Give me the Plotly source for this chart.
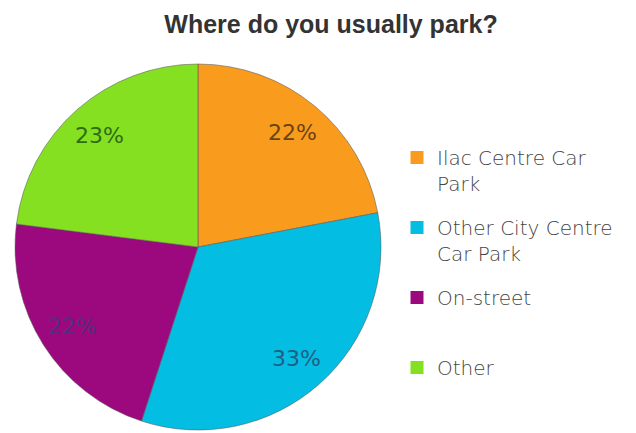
import math
import plotly.graph_objects as go

# Survey answers: where respondents usually park
categories = ["Ilac Centre Car Park", "Other City Centre Car Park", "On-street", "Other"]
legend_text = ["Ilac Centre Car<br>Park", "Other City Centre<br>Car Park", "On-street<br> ", "Other"]
shares = [22, 33, 22, 23]
slice_colors = ["#F99C1E", "#03BDE3", "#9C087E", "#84E021"]
label_colors = ["#6a4414", "#1f5f84", "#53307a", "#2e6c14"]

W, H = 636, 433
# pie placement in pixels
CX, CY, R = 198, 247, 183
LABEL_RADIUS = 0.81

fig = go.Figure()

fig.add_trace(
    go.Pie(
        labels=categories,
        values=shares,
        sort=False,
        direction="clockwise",
        rotation=0,
        marker=dict(colors=slice_colors, line=dict(color="rgba(90,90,90,0.55)", width=1)),
        textinfo="none",
        hoverinfo="label+percent",
        showlegend=False,
        domain=dict(x=[(CX - R) / W, (CX + R) / W], y=[(H - CY - R) / H, (H - CY + R) / H]),
    )
)

# legend entries, one group each so the spacing between them can be set
for name, text, color in zip(categories, legend_text, slice_colors):
    fig.add_trace(
        go.Scatter(
            x=[None], y=[None], mode="markers", name=text, legendgroup=name,
            marker=dict(symbol="square", size=13, color=color, line=dict(width=0)),
            hoverinfo="skip",
        )
    )

# percentage labels placed along each slice's middle angle
total = sum(shares)
start = 0.0
for share, color in zip(shares, label_colors):
    mid = (start + share / 2) / total * 2 * math.pi
    start += share
    px = CX + LABEL_RADIUS * R * math.sin(mid)
    py = CY - LABEL_RADIUS * R * math.cos(mid)
    fig.add_annotation(
        x=px / W, y=1 - py / H, xref="paper", yref="paper",
        text=f"{share}%", showarrow=False,
        xanchor="center", yanchor="middle",
        font=dict(family="DejaVu Sans", size=22, weight=400, color=color),
    )

fig.update_layout(
    width=W,
    height=H,
    margin=dict(l=0, r=0, t=0, b=0),
    paper_bgcolor="white",
    plot_bgcolor="white",
    xaxis=dict(visible=False),
    yaxis=dict(visible=False),
    title=dict(
        text="<b>Where do you usually park?</b>",
        x=331 / W,
        xanchor="center",
        y=1 - 24 / H,
        yanchor="middle",
        font=dict(family="Liberation Sans, Arial", size=25, color="#333333"),
    ),
    legend=dict(
        x=397 / W,
        xanchor="left",
        y=1 - 138 / H,
        yanchor="top",
        valign="top",
        tracegroupgap=15,
        font=dict(family="DejaVu Sans", size=20, weight=300, color="#444444"),
        bgcolor="rgba(0,0,0,0)",
    ),
    showlegend=True,
)

fig.write_html("out.html")
